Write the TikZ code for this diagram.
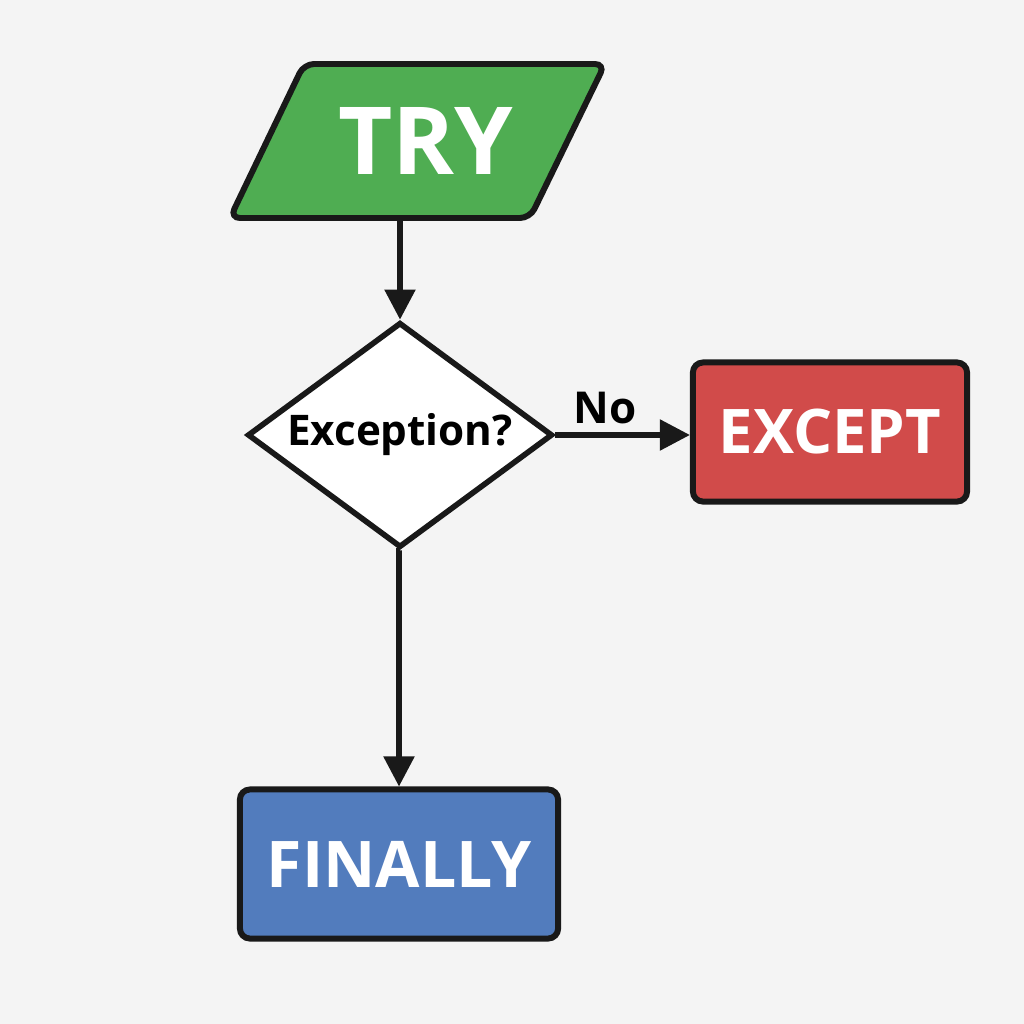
\documentclass[tikz,border=0pt]{standalone}
\usepackage{fontspec}
\setmainfont{Open Sans}
\usetikzlibrary{shapes.geometric,arrows.meta}
\definecolor{bgcol}{HTML}{F4F4F4}
\definecolor{trycol}{HTML}{4FAD52}
\definecolor{exccol}{HTML}{D14B4A}
\definecolor{fincol}{HTML}{527CBD}
\begin{document}
\begin{tikzpicture}[x=0.01cm,y=-0.01cm,
  block/.style={draw=black!90, line width=1.7pt, rounded corners=0.1cm, inner sep=0pt, text=white, font=\bfseries},
  decision/.style={draw=black!90, diamond, aspect=1.36, fill=white, line width=1.6pt, inner sep=0pt, font=\bfseries\fontsize{12}{14}\selectfont},
  flow/.style={draw=black!90, line width=1.5pt, -{Triangle[length=0.3cm,width=0.3cm]}}]
\fill[bgcol] (0,0) rectangle (1024,1024);
\useasboundingbox (0,0) rectangle (1024,1024);

% parallelogram
\draw[block, fill=trycol] (304,64) -- (605,64) -- (530,218) -- (230,218) -- cycle;
\node[text=white, font=\bfseries\fontsize{26.7}{30}\selectfont] (try) at (426,141) {TRY};
\coordinate (trybot) at (400,218);

\node[decision, minimum width=3.05cm, minimum height=2.25cm] (dec) at (400,435) {Exception?};
\node[block, fill=exccol, minimum width=2.74cm, minimum height=1.39cm, font=\bfseries\fontsize{17.5}{20}\selectfont] (exc) at (830,432) {EXCEPT};
\node[block, fill=fincol, minimum width=3.18cm, minimum height=1.49cm, font=\bfseries\fontsize{18.3}{22}\selectfont] (fin) at (399,864) {FINALLY};

\path[flow] (trybot) -- (dec.north);
\path[flow] (dec.east) -- (dec.east -| exc.west) node[pos=0.37, above=-1pt, font=\bfseries\fontsize{12.5}{15}\selectfont] {No};
\path[flow] (dec.south) -- (dec.south -| fin.north) -- (fin.north);
\end{tikzpicture}
\end{document}
